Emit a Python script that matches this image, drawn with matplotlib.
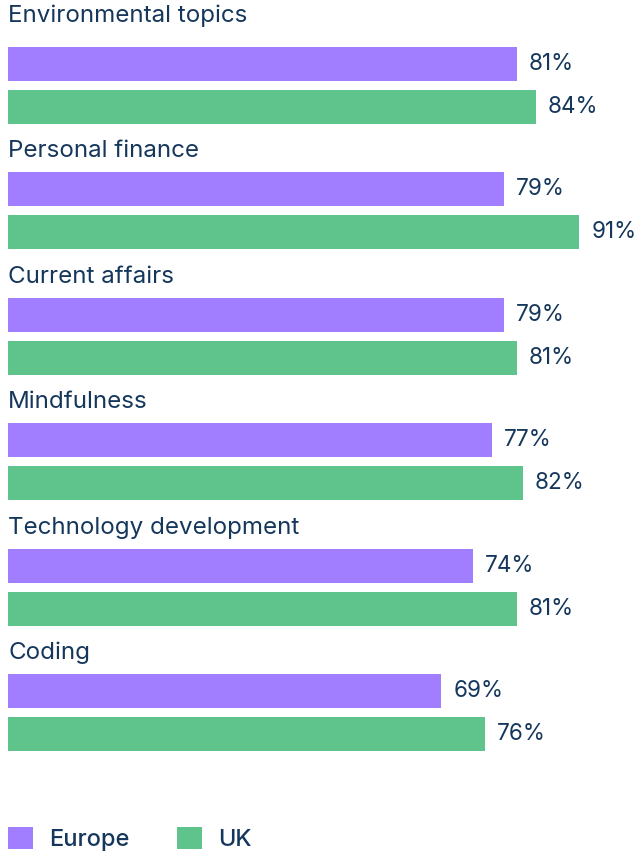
import matplotlib
matplotlib.use("Agg")
import matplotlib.pyplot as plt
from matplotlib.patches import Patch

plt.rcParams['font.family'] = ['Inter', 'DejaVu Sans']

# Data
# ----
categories = ["Environmental topics", "Personal finance", "Current affairs",
              "Mindfulness", "Technology development", "Coding"]
europe = [81, 79, 79, 77, 74, 69]
uk = [84, 91, 81, 82, 81, 76]

purple = "#A07EFF"
green = "#5EC48B"
navy = "#15375C"

# Layout (pixel units, y going down)
# ---------------------------------
pitch = 125.4
bar_h = 34
eu_y = [64 + i * pitch for i in range(len(categories))]
uk_y = [y + 43 for y in eu_y]
label_y = [y - 38 for y in eu_y]
label_y[0] -= 10

fig = plt.figure(figsize=(6.36, 8.52), dpi=100)
ax = fig.add_axes([0, 0, 1, 1])
px = 100 / 628.0  # percent per pixel
ax.set_xlim(-8 * px, 100)
ax.set_ylim(852, 0)
ax.axis("off")

ax.barh(eu_y, europe, height=bar_h, color=purple, edgecolor="none")
ax.barh(uk_y, uk, height=bar_h, color=green, edgecolor="none")

for i, cat in enumerate(categories):
    ax.text(0, label_y[i], cat, fontsize=17.4, color=navy, va="center", ha="left")
    ax.text(europe[i] + 12 * px, eu_y[i], f"{europe[i]}%", fontsize=16.2,
            color=navy, va="center", ha="left")
    ax.text(uk[i] + 12 * px, uk_y[i], f"{uk[i]}%", fontsize=16.2,
            color=navy, va="center", ha="left")

handles = [Patch(facecolor=purple, label="Europe"), Patch(facecolor=green, label="UK")]
leg = fig.legend(handles=handles, loc="lower left", bbox_to_anchor=(8 / 636, 1 / 852),
                 ncol=2, frameon=False, fontsize=17, handlelength=1.05,
                 handleheight=1.05, handletextpad=0.7, columnspacing=2.0,
                 borderpad=0, borderaxespad=0)
for t in leg.get_texts():
    t.set_color(navy)
    t.set_fontweight("medium")

fig.savefig("out.png", dpi=100)
